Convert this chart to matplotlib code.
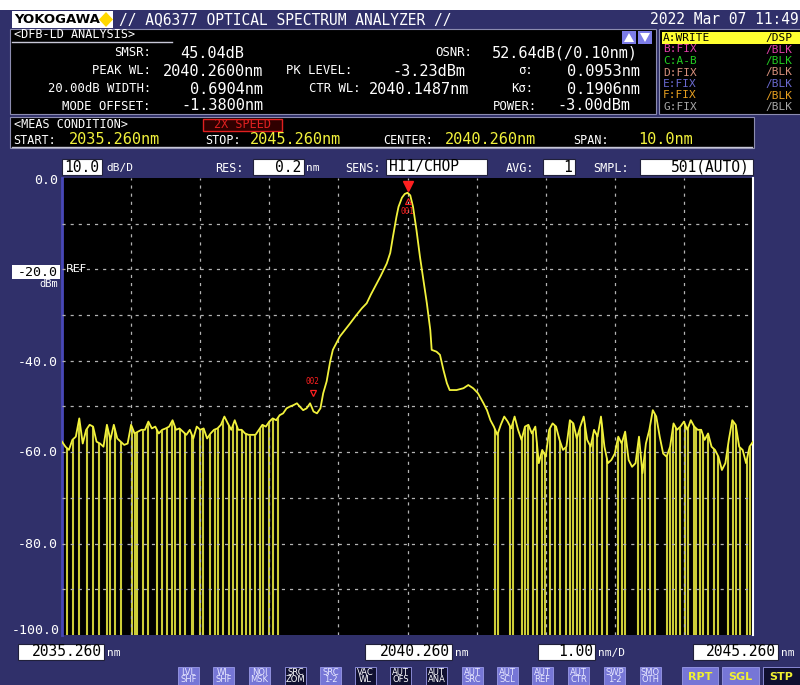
import matplotlib
matplotlib.use('Agg')
import matplotlib.pyplot as plt
from matplotlib.patches import Rectangle, Polygon
import numpy as np

# ---------------- data ----------------
# left noise-floor trace (top of the noise), 0.05 nm step from 2035.26 nm
left_start = 2035.26
left_db = [-57.7, -58.8, -59.5, -57.3, -56.6, -52.6, -58.1, -55.1, -54.0, -54.4,
           -57.7, -58.1, -58.8, -54.0, -57.3, -54.0, -57.0, -57.7, -58.4, -58.1,
           -54.0, -55.9, -55.5, -55.1, -55.1, -53.3, -54.8, -54.4, -55.9, -55.1,
           -54.8, -54.4, -53.0, -55.1, -54.8, -55.5, -56.2, -55.1, -57.0, -54.4,
           -55.1, -54.8, -57.0, -55.9, -55.1, -54.8, -54.0, -52.2, -53.7, -55.1,
           -53.0, -55.1, -55.1, -55.9, -56.2, -56.2, -56.2, -55.1, -54.0, -54.4,
           -53.3, -52.6, -53.0, -51.9]
# main emission (shoulder + DFB peak)
peak_wl = [2038.46, 2038.51, 2038.56, 2038.61, 2038.66, 2038.70, 2038.75, 2038.80,
           2038.85, 2038.90, 2038.95, 2039.00, 2039.04, 2039.09, 2039.14, 2039.18,
           2039.28, 2039.43, 2039.52, 2039.60, 2039.67, 2039.73, 2039.79, 2039.87,
           2039.96, 2040.01, 2040.05, 2040.10, 2040.13, 2040.18, 2040.22, 2040.26,
           2040.30, 2040.34, 2040.39, 2040.44, 2040.49, 2040.54, 2040.59, 2040.61,
           2040.68, 2040.73, 2040.78, 2040.83, 2040.87, 2040.97, 2041.07, 2041.14,
           2041.21, 2041.28, 2041.36, 2041.41]
peak_db = [-51.5, -50.4, -50.0, -49.7, -49.3, -50.0, -50.8, -50.4,
           -49.3, -51.1, -51.5, -50.4, -47.1, -44.5, -40.2, -37.6,
           -34.7, -31.8, -30.0, -28.5, -27.4, -25.5, -23.8, -21.5,
           -18.7, -16.4, -12.8, -8.5, -6.3, -4.3, -3.5, -3.23,
           -3.8, -6.3, -11.4, -17.2, -22.3, -27.4, -33.3, -37.6,
           -38.0, -38.7, -42.0, -44.9, -46.4, -46.4, -46.0, -45.3,
           -46.0, -47.1, -49.3, -50.8]
# right noise-floor trace, 0.05 nm step from 2041.46 nm
right_start = 2041.46
right_db = [-53.0, -54.4, -56.2, -54.0, -52.2, -53.3, -54.8, -52.2, -55.1, -57.3,
            -54.4, -54.0, -55.9, -54.4, -62.4, -59.5, -61.0, -55.1, -53.7, -54.4,
            -57.3, -59.5, -58.8, -53.0, -53.7, -57.0, -54.4, -52.2, -57.3, -58.8,
            -55.1, -56.6, -52.2, -58.8, -62.4, -61.7, -60.3, -56.6, -58.1, -55.5,
            -61.7, -63.2, -62.4, -56.6, -64.6, -58.1, -55.1, -50.8, -52.2, -56.6,
            -60.3, -61.0, -58.8, -53.7, -55.1, -54.4, -53.3, -55.1, -53.0, -54.4,
            -55.1, -55.1, -57.3, -55.9, -58.8, -59.5, -61.0, -63.9, -62.4, -57.3,
            -53.0, -54.0, -58.8, -59.5, -62.4, -58.8, -57.7]
# samples that fall below the display floor (vertical drop-outs)
drop_left_wl = [2035.33, 2035.42, 2035.50, 2035.62, 2035.71, 2035.80, 2035.91, 2035.95,
                2036.03, 2036.12, 2036.27, 2036.32, 2036.35, 2036.43, 2036.51, 2036.63,
                2036.70, 2036.78, 2036.85, 2036.90, 2036.97, 2037.04, 2037.14, 2037.16,
                2037.26, 2037.30, 2037.40, 2037.47, 2037.52, 2037.59, 2037.67, 2037.74,
                2037.79, 2037.86, 2037.93, 2037.98, 2038.05, 2038.13, 2038.17, 2038.25,
                2038.32, 2038.39]
drop_right_wl = [2041.53, 2041.57, 2041.74, 2041.79, 2041.91, 2041.96, 2042.01, 2042.08,
                 2042.13, 2042.20, 2042.25, 2042.32, 2042.39, 2042.47, 2042.56, 2042.61,
                 2042.66, 2042.71, 2042.76, 2042.83, 2042.90, 2042.95, 2043.00, 2043.07,
                 2043.14, 2043.31, 2043.36, 2043.41, 2043.60, 2043.65, 2043.70, 2043.77,
                 2043.84, 2044.01, 2044.06, 2044.10, 2044.15, 2044.20, 2044.28, 2044.32,
                 2044.40, 2044.44, 2044.49, 2044.54, 2044.61, 2044.69, 2044.76, 2044.90,
                 2044.97, 2045.02, 2045.07, 2045.17, 2045.22]
marker1_wl, marker2_wl = 2040.26, 2038.89

y_tick_labels = ['0.0', '-20.0', '-40.0', '-60.0', '-80.0', '-100.0']
analysis_left = [('SMSR:', '45.04dB'), ('PEAK WL:', '2040.2600nm'),
                 ('20.00dB WIDTH:', '0.6904nm'), ('MODE OFFSET:', '-1.3800nm')]
traces = [('A:WRITE', '/DSP', '#000000'), ('B:FIX', '/BLK', '#e040a8'),
          ('C:A-B', '/BLK', '#22cc22'), ('D:FIX', '/BLK', '#d8907c'),
          ('E:FIX', '/BLK', '#6a6ad0'), ('F:FIX', '/BLK', '#e8a020'),
          ('G:FIX', '/BLK', '#a8a8a8')]
buttons = [('LVL', 'SHF', 'L'), ('WL', 'SHF', 'L'), ('NOI', 'MSK', 'L'), ('SRC', 'ZOM', 'D'),
           ('SRC', '1-2', 'L'), ('VAC', 'WL', 'D'), ('AUT', 'OFS', 'D'), ('AUT', 'ANA', 'D'),
           ('AUT', 'SRC', 'L'), ('AUT', 'SCL', 'L'), ('AUT', 'REF', 'L'), ('AUT', 'CTR', 'L'),
           ('SWP', '1-2', 'L'), ('SMO', 'OTH', 'L')]

# ---------------- figure ----------------
W, H = 800, 685
NAVY = '#30306a'
YEL = '#f2f23c'
fig = plt.figure(figsize=(W / 100, H / 100), dpi=100, facecolor=NAVY)
MONO = 'DejaVu Sans Mono'


def X(x):
    return x / W


def Y(y):
    return 1 - y / H


def rect(x0, y0, x1, y1, fc, ec='none', lw=0.0, z=1):
    fig.add_artist(Rectangle((X(x0), Y(y1)), (x1 - x0) / W, (y1 - y0) / H,
                             transform=fig.transFigure, facecolor=fc,
                             edgecolor=ec, linewidth=lw, zorder=z))


def hline(x0, x1, y, c='#c8c8d8', lw=1.0):
    fig.add_artist(plt.Line2D([X(x0), X(x1)], [Y(y), Y(y)], transform=fig.transFigure,
                              color=c, lw=lw, zorder=3))


def txt(x, y, s, c='white', size=9.5, ha='left', fam=MONO, weight='normal', z=5):
    fig.text(X(x), Y(y), s, color=c, fontsize=size, ha=ha, va='center',
             family=fam, weight=weight, zorder=z)


# top white strip & header
rect(0, 0, 800, 10, 'white')
rect(12, 11, 113, 28, 'white', z=2)
txt(14, 19.5, 'YOKOGAWA', c='black', size=9.5, fam='DejaVu Sans', weight='bold')
fig.add_artist(Polygon([(X(106), Y(12)), (X(113), Y(19.5)), (X(106), Y(27)), (X(99), Y(19.5))],
                       closed=True, transform=fig.transFigure, facecolor='#ffd800',
                       edgecolor='none', zorder=3))
txt(119, 19.5, '// AQ6377 OPTICAL SPECTRUM ANALYZER //', size=10.5)
txt(650, 19.5, '2022 Mar 07 11:49', size=10.5)

# analysis box
rect(10, 29, 656, 114, 'black', ec='#8c8cb0', lw=0.8)
txt(14, 34, '<DFB-LD ANALYSIS>', size=8.5)
hline(12, 172, 42)
rows_y = [53, 71, 89, 106]
for (lab, val), yy in zip(analysis_left, rows_y):
    txt(151, yy, lab, size=8.8, ha='right')
txt(180, 53, analysis_left[0][1], size=11)
txt(263, 71, analysis_left[1][1], size=11, ha='right')
txt(263, 89, analysis_left[2][1], size=11, ha='right')
txt(263, 106, analysis_left[3][1], size=11, ha='right')
txt(286, 71, 'PK LEVEL:', size=8.8)
txt(465, 71, '-3.23dBm', size=11, ha='right')
txt(309, 89, 'CTR WL:', size=8.8)
txt(369, 89, '2040.1487nm', size=11)
txt(472, 53, 'OSNR:', size=8.8, ha='right')
txt(638, 53, '52.64dB(/0.10nm)', size=11, ha='right')
txt(533, 71, 'σ:', size=8.8, ha='right')
txt(640, 71, '0.0953nm', size=11, ha='right')
txt(533, 89, 'Kσ:', size=8.8, ha='right')
txt(640, 89, '0.1906nm', size=11, ha='right')
txt(537, 106, 'POWER:', size=8.8, ha='right')
txt(630, 106, '-3.00dBm', size=11, ha='right')
# up/down buttons
rect(622, 31, 636, 44, '#7c7ce8', z=3)
rect(638, 31, 652, 44, '#7c7ce8', z=3)
fig.add_artist(Polygon([(X(624), Y(42)), (X(634), Y(42)), (X(629), Y(33))], closed=True,
                       transform=fig.transFigure, facecolor='white', zorder=4))
fig.add_artist(Polygon([(X(640), Y(33)), (X(650), Y(33)), (X(645), Y(42))], closed=True,
                       transform=fig.transFigure, facecolor='white', zorder=4))

# trace legend box
rect(659, 29, 801, 114, 'black', ec='#8c8cb0', lw=0.8)
rect(662, 32, 800, 44, '#ffff30', z=2)
leg_y = [38, 49.5, 61, 72.5, 84, 95.5, 107]
for (a, b, c), yy in zip(traces, leg_y):
    txt(663, yy, a, c=c, size=8)
    txt(765, yy, b, c=c, size=8)

# measurement condition box
rect(10, 117, 754, 148, 'black', ec='#8c8cb0', lw=0.8)
txt(14, 124, '<MEAS CONDITION>', size=8.5)
rect(203, 119, 282, 131, '#300000', ec='#e02020', lw=1.0, z=2)
txt(242.5, 125, '2X SPEED', c='#e02020', size=8.5, ha='center')
hline(12, 752, 147)
txt(13, 140, 'START:', size=8.5)
txt(69, 139, '2035.260nm', c=YEL, size=11)
txt(205, 140, 'STOP:', size=8.5)
txt(250, 139, '2045.260nm', c=YEL, size=11)
txt(383, 140, 'CENTER:', size=8.5)
txt(445, 139, '2040.260nm', c=YEL, size=11)
txt(573, 140, 'SPAN:', size=8.5)
txt(638, 139, '10.0nm', c=YEL, size=11)


# settings row
def vbox(x0, x1, s, ha='right'):
    rect(x0, 159, x1, 175, 'white', ec='#20203a', lw=0.8, z=2)
    if ha == 'right':
        txt(x1 - 3, 167, s, c='black', size=10.5, ha='right')
    else:
        txt(x0 + 3, 167, s, c='black', size=10.5)


vbox(62, 102, '10.0')
txt(106, 168, 'dB/D', size=8)
txt(215, 168, 'RES:', size=8.5)
vbox(253, 304, '0.2')
txt(306, 168, 'nm', size=8)
txt(345, 168, 'SENS:', size=8.5)
vbox(386, 487, 'HI1/CHOP', ha='left')
txt(506, 168, 'AVG:', size=8.5)
vbox(543, 575, '1')
txt(593, 168, 'SMPL:', size=8.5)
vbox(640, 753, '501(AUTO)')

# ---------------- plot area ----------------
ax = fig.add_axes([X(62), Y(635), (753 - 62) / W, (635 - 178) / H])
ax.set_facecolor('black')
ax.set_xlim(2035.26, 2045.26)
ax.set_ylim(-100, 0)
ax.set_xticks([])
ax.set_yticks([])
for s in ['top', 'bottom']:
    ax.spines[s].set_visible(False)
ax.spines['left'].set_color('#4848b8')
ax.spines['left'].set_linewidth(2)
ax.spines['right'].set_color('white')
ax.spines['right'].set_linewidth(1.5)

for k in range(1, 10):
    ax.axvline(2035.26 + k, color='#b4b4b4', lw=0.9, ls=(0, (2.5, 4)), zorder=3)
    ax.axhline(-10 * k, color='#b4b4b4', lw=0.9, ls=(0, (2.5, 4)), zorder=3)

left_wl = left_start + 0.05 * np.arange(len(left_db))
right_wl = right_start + 0.05 * np.arange(len(right_db))
ax.vlines(drop_left_wl + drop_right_wl, -101, -46, color='#cdcd38', lw=1.5, zorder=1)
ax.fill_between(left_wl, left_db, 1, color='black', lw=0, zorder=2)
ax.fill_between(right_wl, right_db, 1, color='black', lw=0, zorder=2)

all_wl = np.concatenate([left_wl, peak_wl, right_wl])
all_db = np.concatenate([left_db, peak_db, right_db])
ax.plot(all_wl, all_db, color=YEL, lw=1.3, zorder=4)

RED = '#ff2020'
ax.plot([marker1_wl], [-1.8], marker='v', color=RED, ms=7, clip_on=False, zorder=6)
ax.plot([marker1_wl], [-5.0], marker='^', mfc='none', mec=RED, ms=4, mew=0.8, zorder=6)
ax.text(marker1_wl, -7.3, '001', color=RED, fontsize=5.5, ha='center', va='center',
        family=MONO, zorder=6)
ax.text(marker2_wl, -44.6, '002', color=RED, fontsize=5.5, ha='center', va='center',
        family=MONO, zorder=6)
ax.plot([marker2_wl], [-47.0], marker='v', mfc='none', mec=RED, ms=5, mew=0.9, zorder=6)
ax.text(2035.26 + 0.05, -20, 'REF', color='white', fontsize=8, va='center', zorder=6)

# y labels
txt(58, 180, y_tick_labels[0], size=9.5, ha='right')
rect(12, 265, 60, 279, 'white', z=2)
txt(58, 272, y_tick_labels[1], c='black', size=9.5, ha='right')
txt(58, 284, 'dBm', size=7.5, ha='right')
txt(58, 362, y_tick_labels[2], size=9.5, ha='right')
txt(58, 453, y_tick_labels[3], size=9.5, ha='right')
txt(58, 545, y_tick_labels[4], size=9.5, ha='right')
txt(60, 630, y_tick_labels[5], size=9.5, ha='right')


# bottom labels
def bbox_val(x0, x1, s, unit):
    rect(x0, 644, x1, 660, 'white', ec='#20203a', lw=0.8, z=2)
    txt(x1 - 2, 652, s, c='black', size=10.5, ha='right')
    txt(x1 + 3, 653, unit, size=8)


bbox_val(18, 104, '2035.260', 'nm')
bbox_val(365, 452, '2040.260', 'nm')
bbox_val(538, 595, '1.00', 'nm/D')
bbox_val(693, 778, '2045.260', 'nm')

# soft-key buttons
bx = [178, 213, 249, 285, 320, 355, 390, 426, 462, 497, 532, 568, 604, 640]
for x0, (t1, t2, st) in zip(bx, buttons):
    fc = '#7676d6' if st == 'L' else '#101030'
    tc = '#e8e8ff' if st == 'L' else 'white'
    rect(x0, 667, x0 + 21, 690, fc, ec='#9a9ae8', lw=0.6, z=2)
    txt(x0 + 10.5, 672.5, t1, c=tc, size=6, ha='center', fam='DejaVu Sans')
    txt(x0 + 10.5, 680, t2, c=tc, size=6, ha='center', fam='DejaVu Sans')
for x0, x1, lab, fc in [(682, 718, 'RPT', '#7676d6'), (722, 759, 'SGL', '#7676d6'),
                        (763, 800, 'STP', '#101030')]:
    rect(x0, 667, x1, 690, fc, ec='#9a9ae8', lw=0.6, z=2)
    txt((x0 + x1) / 2, 677, lab, c='#f0f030', size=8, ha='center', fam='DejaVu Sans',
        weight='bold')

fig.savefig('out.png', dpi=100, facecolor=NAVY)
